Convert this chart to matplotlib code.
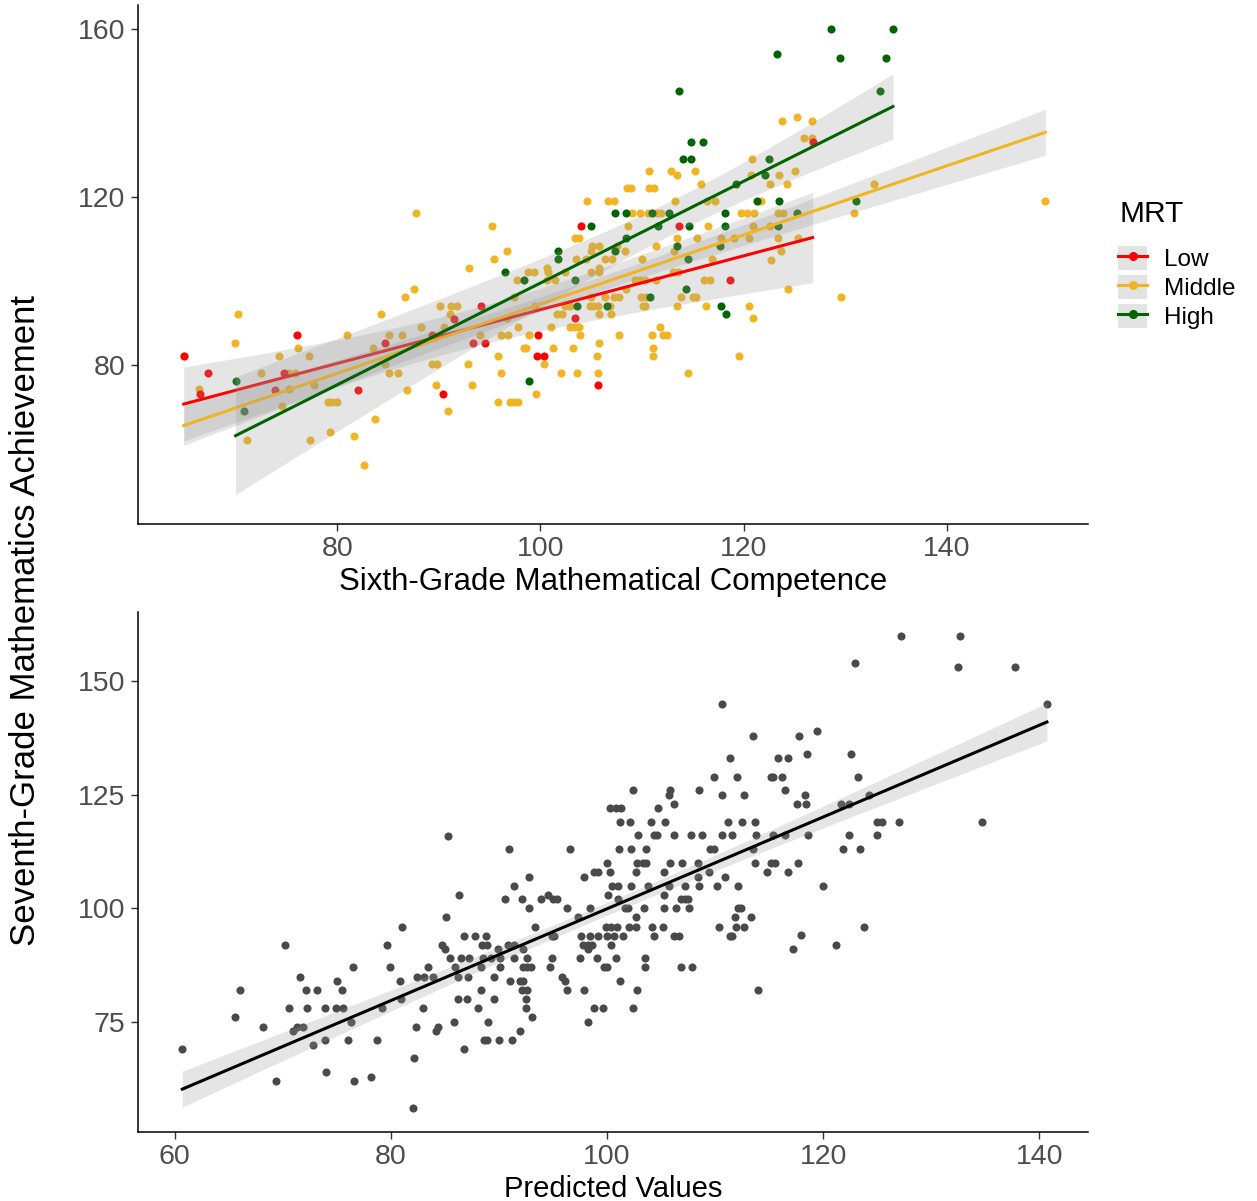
import numpy as np
import matplotlib
matplotlib.use("Agg")
import matplotlib.pyplot as plt
from matplotlib.lines import Line2D
from matplotlib.patches import Patch
from matplotlib.legend_handler import HandlerTuple

plt.rcParams["font.family"] = ["Liberation Sans", "DejaVu Sans"]

# top panel: (sixth-grade competence, seventh-grade achievement) per MRT group
low_pts = [
    (64.9, 82.1), (67.3, 78.0), (66.5, 73.1), (76.0, 87.1), (73.9, 74.1), (74.8, 78.0),
    (82.1, 74.1), (84.7, 85.2), (89.3, 87.1), (90.4, 73.1), (91.5, 91.0), (94.2, 94.1),
    (93.4, 85.2), (94.6, 85.2), (103.4, 91.1), (99.8, 87.1), (99.7, 82.1), (100.4, 82.1),
    (105.7, 75.1), (104.0, 113.1), (113.6, 113.1), (118.7, 100.1), (126.8, 133.1),
]
mid_pts = [
    (64.9, 82.1),
    (70.2, 92.1), (69.9, 85.2), (76.1, 84.1), (66.4, 74.2), (71.1, 62.0), (72.5, 78.0),
    (74.3, 82.1), (74.6, 70.1), (75.3, 78.0), (75.9, 78.0), (75.3, 74.2), (77.2, 82.1),
    (77.3, 62.0), (77.7, 75.1), (79.3, 64.1), (79.1, 71.1), (79.5, 71.1), (80.0, 71.1),
    (81.0, 87.1), (81.7, 63.1), (82.6, 56.1), (83.5, 84.1), (83.7, 67.1), (84.3, 92.1),
    (84.7, 80.2), (85.1, 87.1), (85.1, 78.0), (86.0, 78.0), (86.4, 87.1), (86.7, 96.1),
    (87.6, 98.0), (86.9, 74.1), (88.3, 89.0), (89.3, 80.2), (89.8, 80.2), (89.7, 75.1),
    (90.1, 94.1), (90.9, 69.1), (90.5, 89.0), (91.2, 94.1), (91.1, 92.1), (87.8, 116.1),
    (110.7, 126.1), (112.9, 126.1), (113.4, 125.1), (115.2, 126.1), (115.8, 123.1),
    (120.8, 129.0), (120.7, 125.2), (122.6, 123.1), (108.5, 122.1), (108.9, 122.1),
    (110.7, 122.1), (111.2, 122.1), (104.6, 119.1), (106.7, 119.1), (107.2, 119.1),
    (113.3, 119.1), (116.4, 119.1), (117.2, 119.1), (121.7, 119.1), (109.0, 116.1),
    (109.8, 116.1), (110.6, 116.1), (111.5, 116.1), (111.9, 116.1), (119.7, 116.1),
    (120.3, 116.1), (121.0, 116.1), (95.2, 113.1), (108.6, 113.1), (116.5, 113.1),
    (120.9, 113.1), (122.6, 113.1), (103.4, 110.2), (103.8, 110.2), (113.4, 110.2),
    (115.4, 110.2), (117.8, 110.2), (119.1, 110.2), (120.5, 110.2), (95.4, 105.1),
    (96.7, 107.1), (105.1, 108.4), (105.8, 108.2), (105.0, 107.1), (107.5, 108.4),
    (108.3, 107.1), (111.4, 108.2), (113.2, 107.1), (116.9, 105.2), (103.5, 105.2),
    (104.5, 105.2), (106.4, 105.2), (107.1, 105.2), (110.0, 105.2),
    (123.8, 138.0), (125.3, 139.0), (126.7, 138.0), (125.9, 134.1), (126.7, 134.1),
    (125.1, 126.1), (123.5, 125.1), (124.3, 123.1), (132.8, 123.1), (149.7, 119.1),
    (130.9, 116.1), (123.4, 116.1), (123.9, 116.1), (125.4, 110.2), (123.4, 110.2),
    (123.7, 107.1), (122.7, 105.0), (124.4, 98.0), (129.6, 96.1),
    (93.0, 103.0), (98.8, 102.1), (99.4, 102.1), (100.7, 103.0), (100.8, 102.1),
    (102.4, 102.1), (97.7, 100.1), (100.7, 100.1), (101.4, 100.1), (105.0, 102.1),
    (105.8, 103.0), (105.8, 102.1), (109.3, 100.1), (109.8, 100.1), (110.3, 100.1),
    (111.4, 100.1), (113.1, 102.1), (113.5, 102.1), (116.1, 100.1), (116.7, 100.1),
    (108.4, 98.0), (97.4, 96.1), (105.0, 96.1), (106.4, 96.1), (107.2, 96.1),
    (107.7, 96.1), (109.9, 96.1), (110.4, 96.1), (113.8, 96.1), (115.0, 96.1),
    (115.3, 96.1), (91.8, 94.1), (99.5, 94.1), (102.4, 94.1), (102.9, 94.1),
    (104.9, 94.1), (105.2, 94.1), (105.7, 94.1), (106.9, 94.1), (110.1, 94.1),
    (110.3, 94.1), (113.4, 94.1), (116.3, 94.1), (120.5, 94.1), (120.9, 91.1),
    (101.6, 92.1), (102.1, 92.1), (105.8, 92.1), (107.0, 92.1), (94.1, 87.1),
    (96.7, 91.1), (97.8, 89.0), (101.0, 89.0), (102.9, 89.0), (103.4, 89.0),
    (103.8, 89.0), (111.8, 89.0), (96.1, 87.1), (96.8, 87.1), (98.9, 87.1),
    (103.9, 87.1), (107.7, 87.1), (111.0, 87.1), (112.1, 87.1), (112.5, 87.1),
    (98.4, 84.1), (98.6, 84.1), (101.2, 84.1), (103.2, 84.1), (105.8, 85.2),
    (111.1, 84.1), (95.8, 82.1), (105.6, 82.1), (111.1, 82.1), (119.6, 82.1),
    (92.9, 80.2), (100.4, 80.2), (96.1, 78.0), (102.0, 78.0), (103.6, 78.0),
    (105.7, 78.0), (114.5, 78.0), (93.3, 75.2), (99.6, 73.1), (95.8, 71.1),
    (97.0, 71.1), (97.4, 71.1), (97.8, 71.1),
]
high_pts = [
    (70.0, 76.1), (70.8, 69.1), (98.9, 76.1), (96.5, 102.1), (98.4, 100.1), (103.4, 100.1),
    (103.6, 94.1), (106.6, 94.1), (110.8, 96.1), (114.3, 98.0), (117.8, 94.1), (118.3, 92.1),
    (113.6, 145.1), (114.8, 133.1), (116.0, 133.1), (114.0, 129.0), (114.8, 129.0),
    (122.5, 129.0), (122.1, 125.2), (119.3, 123.1), (121.3, 119.1), (107.3, 116.1),
    (108.4, 116.1), (111.0, 116.1), (112.7, 116.1), (118.2, 116.1), (105.0, 113.1),
    (111.6, 113.1), (114.6, 113.1), (118.2, 113.1), (108.4, 110.2), (101.7, 107.1),
    (101.7, 105.1), (107.3, 107.1), (113.4, 108.2), (117.7, 108.2), (114.5, 105.2),
    (128.6, 160.0), (134.7, 160.0), (123.3, 154.0), (129.5, 153.0), (134.0, 153.0),
    (133.4, 145.1), (123.5, 119.1), (131.1, 119.1), (125.3, 116.1), (123.4, 113.1),
]

# bottom panel: (predicted value, seventh-grade achievement)
pred_pts = [
    (85.3, 116.0), (110.6, 145.0), (113.5, 138.0), (111.4, 133.0), (109.9, 129.0),
    (112.0, 129.0), (115.2, 129.0), (102.4, 126.0), (105.8, 126.0), (105.7, 125.0),
    (108.5, 126.0), (110.6, 125.0), (112.7, 125.0), (106.2, 122.9), (100.3, 122.0),
    (100.8, 122.0), (101.3, 122.0), (104.7, 122.0), (101.2, 119.0), (102.1, 119.0),
    (104.1, 119.0), (105.4, 119.0), (111.2, 119.0), (112.5, 119.0), (113.7, 119.0),
    (102.9, 116.1), (104.3, 116.1), (104.6, 116.1), (106.2, 116.1), (107.8, 116.1),
    (108.8, 116.1), (110.6, 116.1), (111.6, 116.1), (113.8, 116.1), (90.9, 113.0),
    (96.6, 113.0), (101.1, 113.0), (102.2, 113.0), (103.6, 113.0), (109.5, 113.0),
    (109.9, 113.0), (113.5, 113.0), (100.0, 110.0), (102.8, 110.0), (103.3, 110.0),
    (103.6, 110.0), (105.8, 110.0), (106.9, 110.0), (108.4, 110.0), (113.7, 110.0),
    (115.2, 110.0),
    (127.2, 160.0), (132.7, 160.0), (122.9, 153.9), (132.5, 153.0), (137.7, 153.0),
    (140.7, 145.0), (117.8, 138.0), (119.4, 139.0), (115.8, 133.0), (116.7, 133.0),
    (118.5, 133.9), (122.6, 133.9), (115.4, 129.0), (116.2, 129.0), (123.2, 129.0),
    (116.5, 126.0), (118.3, 125.0), (117.6, 122.9), (118.4, 122.9), (121.6, 122.9),
    (122.4, 122.9), (124.2, 125.0), (125.0, 119.0), (125.4, 119.0), (127.0, 119.0),
    (134.7, 119.0), (115.4, 116.1), (116.5, 116.1), (118.6, 116.1), (122.4, 116.1),
    (125.0, 116.1), (121.8, 113.0), (123.4, 113.0), (115.5, 110.0), (117.7, 110.0),
    (116.7, 108.0), (120.0, 105.0), (123.8, 96.0), (117.9, 94.1), (117.2, 91.0),
    (121.2, 92.0),
    (60.7, 69.1), (66.0, 82.0), (65.6, 76.0), (68.2, 74.0), (69.4, 62.0), (70.2, 92.0),
    (70.6, 78.0), (70.9, 73.0), (71.3, 74.0), (71.9, 74.0), (71.6, 85.0), (72.1, 82.0),
    (72.2, 78.0), (72.8, 70.0), (73.2, 82.0), (73.9, 78.0), (73.9, 71.0), (74.0, 64.0),
    (75.0, 84.0), (74.9, 78.0), (75.6, 78.0), (75.5, 82.0), (76.3, 75.0), (76.0, 71.0),
    (76.5, 87.0), (76.6, 62.0), (78.2, 63.0), (78.7, 71.0), (79.2, 78.0), (79.6, 92.0),
    (79.9, 87.0), (80.8, 84.0), (80.9, 80.0), (81.0, 96.0), (82.0, 56.1), (82.1, 67.1),
    (82.3, 74.0), (82.4, 85.0), (83.1, 85.0), (83.9, 85.0), (83.0, 78.0), (83.4, 87.0),
    (84.2, 73.0), (84.4, 74.0), (84.7, 92.0), (85.0, 91.0), (85.1, 98.0), (85.5, 89.0),
    (85.8, 75.0),
    (92.8, 107.0), (97.9, 107.0), (108.4, 107.0), (110.9, 107.0), (98.8, 108.0),
    (99.2, 108.0), (100.3, 108.0), (102.7, 108.0), (105.3, 108.0), (109.4, 108.0),
    (114.8, 108.0), (91.4, 105.0), (100.5, 105.0), (101.0, 105.0), (102.2, 105.0),
    (103.8, 105.0), (105.7, 105.0), (107.2, 105.0), (108.5, 105.0), (110.2, 105.0),
    (112.1, 105.0), (86.3, 103.0), (94.5, 103.0), (100.1, 103.0), (105.3, 103.0),
    (90.6, 102.0), (92.1, 102.0), (93.9, 102.0), (95.0, 102.0), (95.4, 102.0),
    (101.0, 102.0), (106.8, 102.0), (107.2, 102.0), (107.5, 102.0), (92.8, 100.0),
    (96.3, 100.0), (98.4, 100.0), (101.7, 100.0), (101.9, 100.0), (103.4, 100.0),
    (105.3, 100.0), (106.4, 100.0), (107.6, 100.0), (112.1, 100.0), (112.4, 100.0),
    (97.3, 98.0), (102.7, 98.0), (111.8, 98.0), (113.3, 98.0), (93.3, 96.0),
    (99.9, 96.0), (100.4, 96.0), (100.9, 96.0), (102.0, 96.0), (102.7, 96.0),
    (104.2, 96.0), (105.2, 96.0), (110.4, 96.0), (111.9, 96.0), (112.7, 96.0),
    (86.8, 94.0), (87.8, 94.0), (88.8, 94.0), (94.9, 94.0), (95.1, 94.0), (97.6, 94.0),
    (98.4, 94.0), (99.2, 94.0), (100.0, 94.0), (100.6, 94.0), (101.5, 94.0),
    (104.3, 94.0), (106.2, 94.0), (106.7, 94.0), (111.4, 94.0), (111.6, 94.0),
    (88.4, 92.0), (88.9, 92.0), (90.8, 92.0), (91.4, 92.0), (97.8, 92.0), (98.2, 92.0),
    (98.6, 92.0), (100.4, 92.0), (89.9, 91.0), (92.2, 91.0), (98.2, 91.0),
    (86.5, 89.0), (87.2, 89.0), (88.5, 89.0), (89.3, 89.0), (90.1, 89.0), (91.4, 89.0),
    (92.6, 89.0), (94.9, 89.0), (97.5, 89.0), (99.1, 89.0), (100.8, 89.0), (103.5, 89.0),
    (85.9, 87.0), (88.3, 87.0), (90.1, 87.0), (92.2, 87.0), (92.6, 87.0), (93.0, 87.0),
    (94.7, 87.0), (99.7, 87.0), (100.0, 87.0), (103.5, 87.0), (106.8, 87.0), (107.9, 87.0),
    (86.2, 85.0), (87.1, 85.0), (89.5, 85.0), (95.8, 85.0), (91.0, 84.0), (91.9, 84.0),
    (92.2, 84.0), (96.1, 84.0), (101.2, 84.0), (88.3, 82.0), (92.1, 82.0), (92.6, 82.0),
    (96.3, 82.0), (97.9, 82.0), (102.8, 82.0), (114.0, 82.0), (86.2, 80.0), (87.0, 80.0),
    (89.5, 80.0), (92.5, 80.0), (88.1, 78.0), (92.5, 78.0), (98.8, 78.0), (99.6, 78.0),
    (102.4, 78.0), (93.1, 76.0), (89.0, 75.0), (98.2, 75.0), (91.9, 73.0), (88.6, 71.0),
    (88.9, 71.0), (90.0, 71.0), (91.2, 71.0), (86.8, 69.0),
]

group_names = ["Low", "Middle", "High"]
group_colors = ["#FF0000", "#F1B422", "#006400"]
RIBBON = "#999999"
TICK_GREY = "#4D4D4D"


def smooth_fit(x, y, n=80):
    """OLS line with a 95% confidence band, like geom_smooth(method='lm')."""
    x = np.asarray(x, float)
    y = np.asarray(y, float)
    slope, intercept = np.polyfit(x, y, 1)
    grid = np.linspace(x.min(), x.max(), n)
    fit = intercept + slope * grid
    resid = y - (intercept + slope * x)
    df = len(x) - 2
    s = np.sqrt(np.sum(resid ** 2) / df)
    sxx = np.sum((x - x.mean()) ** 2)
    se = s * np.sqrt(1 / len(x) + (grid - x.mean()) ** 2 / sxx)
    t = 1.96 + 2.4 / df
    return grid, fit, fit - t * se, fit + t * se


def style_axes(ax):
    for side in ("top", "right"):
        ax.spines[side].set_visible(False)
    for side in ("left", "bottom"):
        ax.spines[side].set_linewidth(1.1)
        ax.spines[side].set_color("black")
    ax.tick_params(length=5, width=1.0, color="#333333", labelcolor=TICK_GREY,
                   labelsize=20.5, pad=4)


fig = plt.figure(figsize=(12.57, 12.01), dpi=100)
W, H = 1257, 1201
ax1 = fig.add_axes([138 / W, 1 - 524 / H, 950 / W, 519 / H])
ax2 = fig.add_axes([138 / W, 1 - 1132 / H, 950 / W, 520 / H])

groups = [low_pts, mid_pts, high_pts]
# middle first so the few red points sitting on orange ones stay visible
for pts, color in [(mid_pts, group_colors[1]), (low_pts, group_colors[0]),
                   (high_pts, group_colors[2])]:
    gx, gy = np.array(pts).T
    ax1.scatter(gx, gy, s=34, color=color, linewidths=0, zorder=1)

handles = []
for i, (pts, color) in enumerate(zip(groups, group_colors)):
    gx, gy = np.array(pts).T
    grid, fit, lo, hi = smooth_fit(gx, gy)
    ax1.fill_between(grid, lo, hi, color=RIBBON, alpha=0.25, linewidth=0, zorder=2 + 2 * i)
    ax1.plot(grid, fit, color=color, lw=2.2, zorder=3 + 2 * i)
    handles.append((Patch(facecolor="#E3E3E3", edgecolor="none"),
                    Line2D([], [], color=color, lw=2.2, marker="o", markersize=5.5)))

ax1.set_xlim(60.4, 153.9)
ax1.set_ylim(42.1, 165.7)
ax1.set_xticks([80, 100, 120, 140])
ax1.set_yticks([80, 120, 160])
style_axes(ax1)
ax1.set_xlabel("Sixth-Grade Mathematical Competence", fontsize=22.5, labelpad=3)

px, py = np.array(pred_pts).T
ax2.scatter(px, py, s=34, color="#4A4A4A", linewidths=0, zorder=1)
grid, fit, lo, hi = smooth_fit(px, py)
ax2.fill_between(grid, lo, hi, color=RIBBON, alpha=0.25, linewidth=0, zorder=2)
ax2.plot(grid, fit, color="black", lw=2.2, zorder=3)
ax2.set_xlim(56.6, 144.5)
ax2.set_ylim(50.8, 165.2)
ax2.set_xticks([60, 80, 100, 120, 140])
ax2.set_yticks([75, 100, 125, 150])
style_axes(ax2)
ax2.set_xlabel("Predicted Values", fontsize=21, labelpad=3)

fig.text(26 / W, 1 - 620 / H, "Seventh-Grade Mathematics Achievement",
         rotation=90, ha="center", va="center", fontsize=25)

fig.text(1119 / W, 1 - 214 / H, "MRT", ha="left", va="center", fontsize=21.5)
fig.legend(handles, group_names, handler_map={tuple: HandlerTuple(ndivide=1)},
           loc="upper left", bbox_to_anchor=(1106 / W, 1 - 234 / H), frameon=False,
           borderpad=0, fontsize=17.5, handlelength=1.2, handleheight=1.15,
           handletextpad=0.7, labelspacing=0.15)

fig.savefig("out.png", dpi=100)
